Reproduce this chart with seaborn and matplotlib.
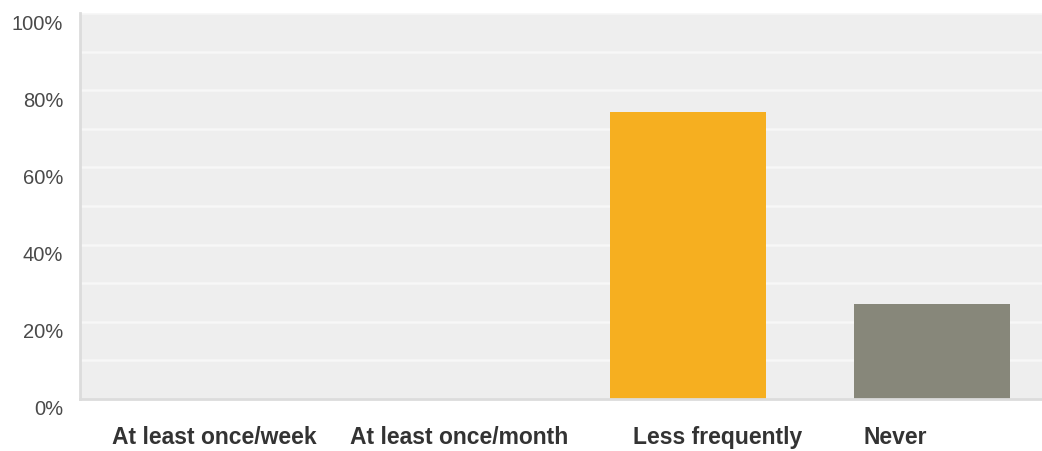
import matplotlib
matplotlib.use("Agg")
import matplotlib.pyplot as plt
import matplotlib.transforms as mtransforms
from matplotlib.ticker import MultipleLocator, FuncFormatter
import seaborn as sns
import pandas as pd

# Survey answers: how often respondents do it
categories = ["At least once/week", "At least once/month", "Less frequently", "Never"]
shares = [0.0, 0.0, 74.4, 24.6]
bar_colors = ["#F6AF20", "#F6AF20", "#F6AF20", "#87877A"]

df = pd.DataFrame({"category": categories, "share": shares})

sns.set_theme(style="white")
plt.rcParams["font.family"] = ["Liberation Sans", "DejaVu Sans"]

fig = plt.figure(figsize=(10.42, 4.52), dpi=100)
ax = fig.add_axes([80 / 1042, 52 / 452, 962 / 1042, 386 / 452])

sns.barplot(
    data=df, x="category", y="share", hue="category",
    palette=dict(zip(categories, bar_colors)), order=categories,
    dodge=False, width=0.64, saturation=1, legend=False, linewidth=0, ax=ax,
)

ax.set_facecolor("#EEEEEE")
ax.set_ylim(0, 100)
ax.set_xlim(-0.49, 3.45)
ax.yaxis.set_major_locator(MultipleLocator(20))
ax.yaxis.set_minor_locator(MultipleLocator(10))
ax.yaxis.set_major_formatter(FuncFormatter(lambda v, _: f"{v:.0f}%"))
ax.grid(axis="y", which="both", color="#F7F7F7", linewidth=1.8)
ax.set_axisbelow(True)

for side in ("top", "right"):
    ax.spines[side].set_visible(False)
for side in ("left", "bottom"):
    ax.spines[side].set_color("#DCDCDC")
    ax.spines[side].set_linewidth(2)

ax.set_xlabel("")
ax.set_ylabel("")
ax.tick_params(axis="y", which="both", length=0, pad=12, labelsize=14.5, labelcolor="#4A4A4A")
ax.tick_params(axis="x", length=0, pad=19, labelsize=16.5, labelcolor="#333333")

# category labels are nudged sideways from their bar centres
label_nudge_px = [15, 15, 30, -37]
for lbl, dx in zip(ax.get_xticklabels(), label_nudge_px):
    lbl.set_fontweight("bold")
    lbl.set_transform(lbl.get_transform()
                      + mtransforms.ScaledTranslation(dx / 100, 0, fig.dpi_scale_trans))

# y labels sit slightly below their gridlines
shift = mtransforms.ScaledTranslation(0, -8 / 100, fig.dpi_scale_trans)
for lbl in ax.get_yticklabels():
    lbl.set_transform(lbl.get_transform() + shift)

fig.savefig("out.png", dpi=100, facecolor="white")
